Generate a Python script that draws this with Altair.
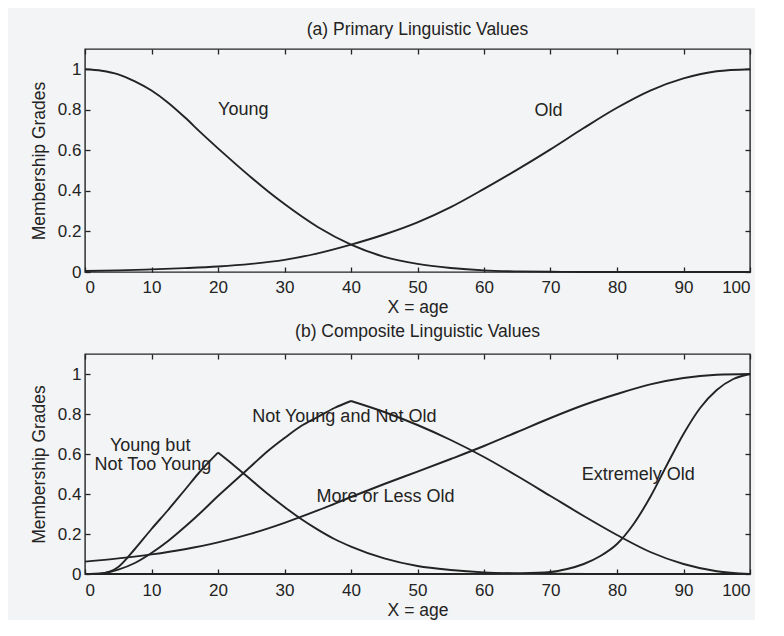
import altair as alt
import pandas as pd

FONT = "Liberation Sans"
INK = "#232323"
BG = "#f3f4f5"

# ---------------- (a) Primary Linguistic Values ----------------
young_x = [0, 2.5, 5, 7.5, 10, 12.5, 15, 17.5, 20, 22.5, 25, 27.5, 30, 35, 40, 45, 50, 55, 60, 65, 70, 75, 80,
           90, 100]
young_y = [1.0, 0.993, 0.975, 0.94, 0.895, 0.835, 0.763, 0.685, 0.61, 0.537, 0.466, 0.398, 0.335, 0.222, 0.135,
           0.075, 0.04, 0.02, 0.008, 0.003, 0.001, 0.0, 0.0, 0.0, 0.0]
old_x = [0, 5, 10, 15, 20, 25, 30, 35, 40, 45, 50, 55, 60, 65, 70, 75, 80, 85, 90, 95, 100]
old_y = [0.005, 0.008, 0.013, 0.019, 0.027, 0.04, 0.06, 0.092, 0.135, 0.185, 0.245, 0.32, 0.41, 0.505, 0.605,
         0.71, 0.81, 0.895, 0.955, 0.99, 1.0]

# ---------------- (b) Composite Linguistic Values ----------------
ybnty_up_x = [0, 2.5, 5, 7.5, 10, 12.5, 15, 17.5, 20]
ybnty_up_y = [0.0, 0.003, 0.035, 0.125, 0.225, 0.32, 0.42, 0.52, 0.607]
ybnty_dn_x = [20, 22.5, 25, 27.5, 30, 32.5, 35, 37.5, 40, 45, 50, 55, 60, 65, 70, 80, 100]
ybnty_dn_y = [0.607, 0.54, 0.47, 0.40, 0.335, 0.275, 0.222, 0.175, 0.137, 0.078, 0.04, 0.02, 0.008, 0.003,
              0.001, 0.0, 0.0]

nyno_up_x = [0, 2.5, 5, 7.5, 10, 12.5, 15, 17.5, 20, 22.5, 25, 27.5, 30, 32.5, 35, 37.5, 40]
nyno_up_y = [0.0, 0.003, 0.022, 0.055, 0.105, 0.165, 0.235, 0.31, 0.39, 0.465, 0.54, 0.615, 0.68, 0.74,
             0.785, 0.83, 0.865]
nyno_dn_x = [40, 45, 50, 55, 60, 65, 70, 75, 80, 85, 90, 95, 100]
nyno_dn_y = [0.865, 0.81, 0.745, 0.67, 0.585, 0.49, 0.39, 0.29, 0.195, 0.11, 0.05, 0.014, 0.0]

mol_x = [0, 5, 10, 15, 20, 25, 30, 35, 40, 45, 50, 55, 60, 65, 70, 75, 80, 85, 90, 95, 100]
mol_y = [0.062, 0.078, 0.098, 0.124, 0.158, 0.202, 0.256, 0.318, 0.385, 0.45, 0.512, 0.575, 0.64, 0.71, 0.78,
         0.845, 0.9, 0.948, 0.98, 0.996, 1.0]

eo_x = [0, 20, 40, 55, 60, 65, 70, 72.5, 75, 77.5, 80, 82.5, 85, 87.5, 90, 92.5, 95, 97.5, 100]
eo_y = [0.0, 0.0, 0.0, 0.0, 0.001, 0.003, 0.01, 0.025, 0.05, 0.09, 0.15, 0.25, 0.385, 0.545, 0.7, 0.83,
        0.92, 0.975, 1.0]

# curve labels (text, x, y)
labels_a = [("Young", 23.8, 0.80), ("Old", 69.7, 0.795)]
labels_b = [("Young but", 9.8, 0.642), ("Not Too Young", 10.2, 0.545),
            ("Not Young and Not Old", 39.0, 0.786), ("More or Less Old", 45.2, 0.386),
            ("Extremely Old", 83.2, 0.494)]

x_ticks = list(range(0, 101, 10))
y_ticks = [0, 0.2, 0.4, 0.6, 0.8, 1]


def frame(series):
    rows = []
    for name, xs, ys in series:
        for xv, yv in zip(xs, ys):
            rows.append({"seg": name, "x": xv, "y": yv})
    return pd.DataFrame(rows)


def panel(df, labels, title, h, title_offset, lab_pad, tit_pad):
    xs = alt.Scale(domain=[0, 100], nice=False, zero=False)
    ys = alt.Scale(domain=[0, 1.1], nice=False, zero=False)
    lines = alt.Chart(df).mark_line(color=INK, strokeWidth=1.9, interpolate="monotone").encode(
        x=alt.X("x:Q", scale=xs, axis=alt.Axis(
            orient="bottom", values=x_ticks, format="d", title="X = age", offset=-5,
            tickSize=5, labelPadding=lab_pad, titlePadding=tit_pad, domain=False, grid=False)),
        y=alt.Y("y:Q", scale=ys, axis=alt.Axis(
            orient="left", values=y_ticks, format="~g", title="Membership Grades", offset=-5,
            tickSize=5, labelPadding=4, titlePadding=9, domain=False, grid=False)),
        detail="seg:N",
    )
    ticks = alt.Chart(df).mark_line(opacity=0).encode(
        x=alt.X("x:Q", scale=xs, axis=alt.Axis(
            orient="top", values=x_ticks, labels=False, title=None, offset=-5,
            tickSize=5, domain=False, grid=False)),
        y=alt.Y("y:Q", scale=ys, axis=alt.Axis(
            orient="right", values=y_ticks, labels=False, title=None, offset=-5,
            tickSize=5, domain=False, grid=False)),
        detail="seg:N",
    )
    ldf = pd.DataFrame(labels, columns=["text", "x", "y"])
    texts = alt.Chart(ldf).mark_text(fontSize=18, font=FONT, color=INK, align="center",
                                     baseline="middle").encode(
        x=alt.X("x:Q", scale=xs, axis=None),
        y=alt.Y("y:Q", scale=ys, axis=None),
        text="text:N",
    )
    return alt.layer(lines, ticks, texts).properties(
        width=665, height=h,
        title=alt.TitleParams(title, fontSize=17.5, font=FONT, fontWeight="normal", color=INK,
                              offset=title_offset),
    )


df_a = frame([("young", young_x, young_y), ("old", old_x, old_y)])
df_b = frame([("ybnty_up", ybnty_up_x, ybnty_up_y), ("ybnty_dn", ybnty_dn_x, ybnty_dn_y),
              ("nyno_up", nyno_up_x, nyno_up_y), ("nyno_dn", nyno_dn_x, nyno_dn_y),
              ("mol", mol_x, mol_y), ("eo", eo_x, eo_y)])

pa = panel(df_a, labels_a, "(a) Primary Linguistic Values", 223, 10, 7, 3)
pb = panel(df_b, labels_b, "(b) Composite Linguistic Values", 220, 13, 8, 3)

chart = alt.vconcat(pa, pb, spacing=5).properties(
    background=BG,
    padding={"left": 21, "top": 12, "right": 0, "bottom": 0},
).configure_view(
    stroke=INK, strokeWidth=1.4, fill=BG,
).configure_axis(
    labelFont=FONT, titleFont=FONT, labelFontSize=17, titleFontSize=17.5, titleFontWeight="normal",
    labelColor=INK, titleColor=INK, tickColor=INK, tickWidth=1.3,
).configure_text(font=FONT)

chart.save("out.html", embed_options={"renderer": "svg", "actions": False})
